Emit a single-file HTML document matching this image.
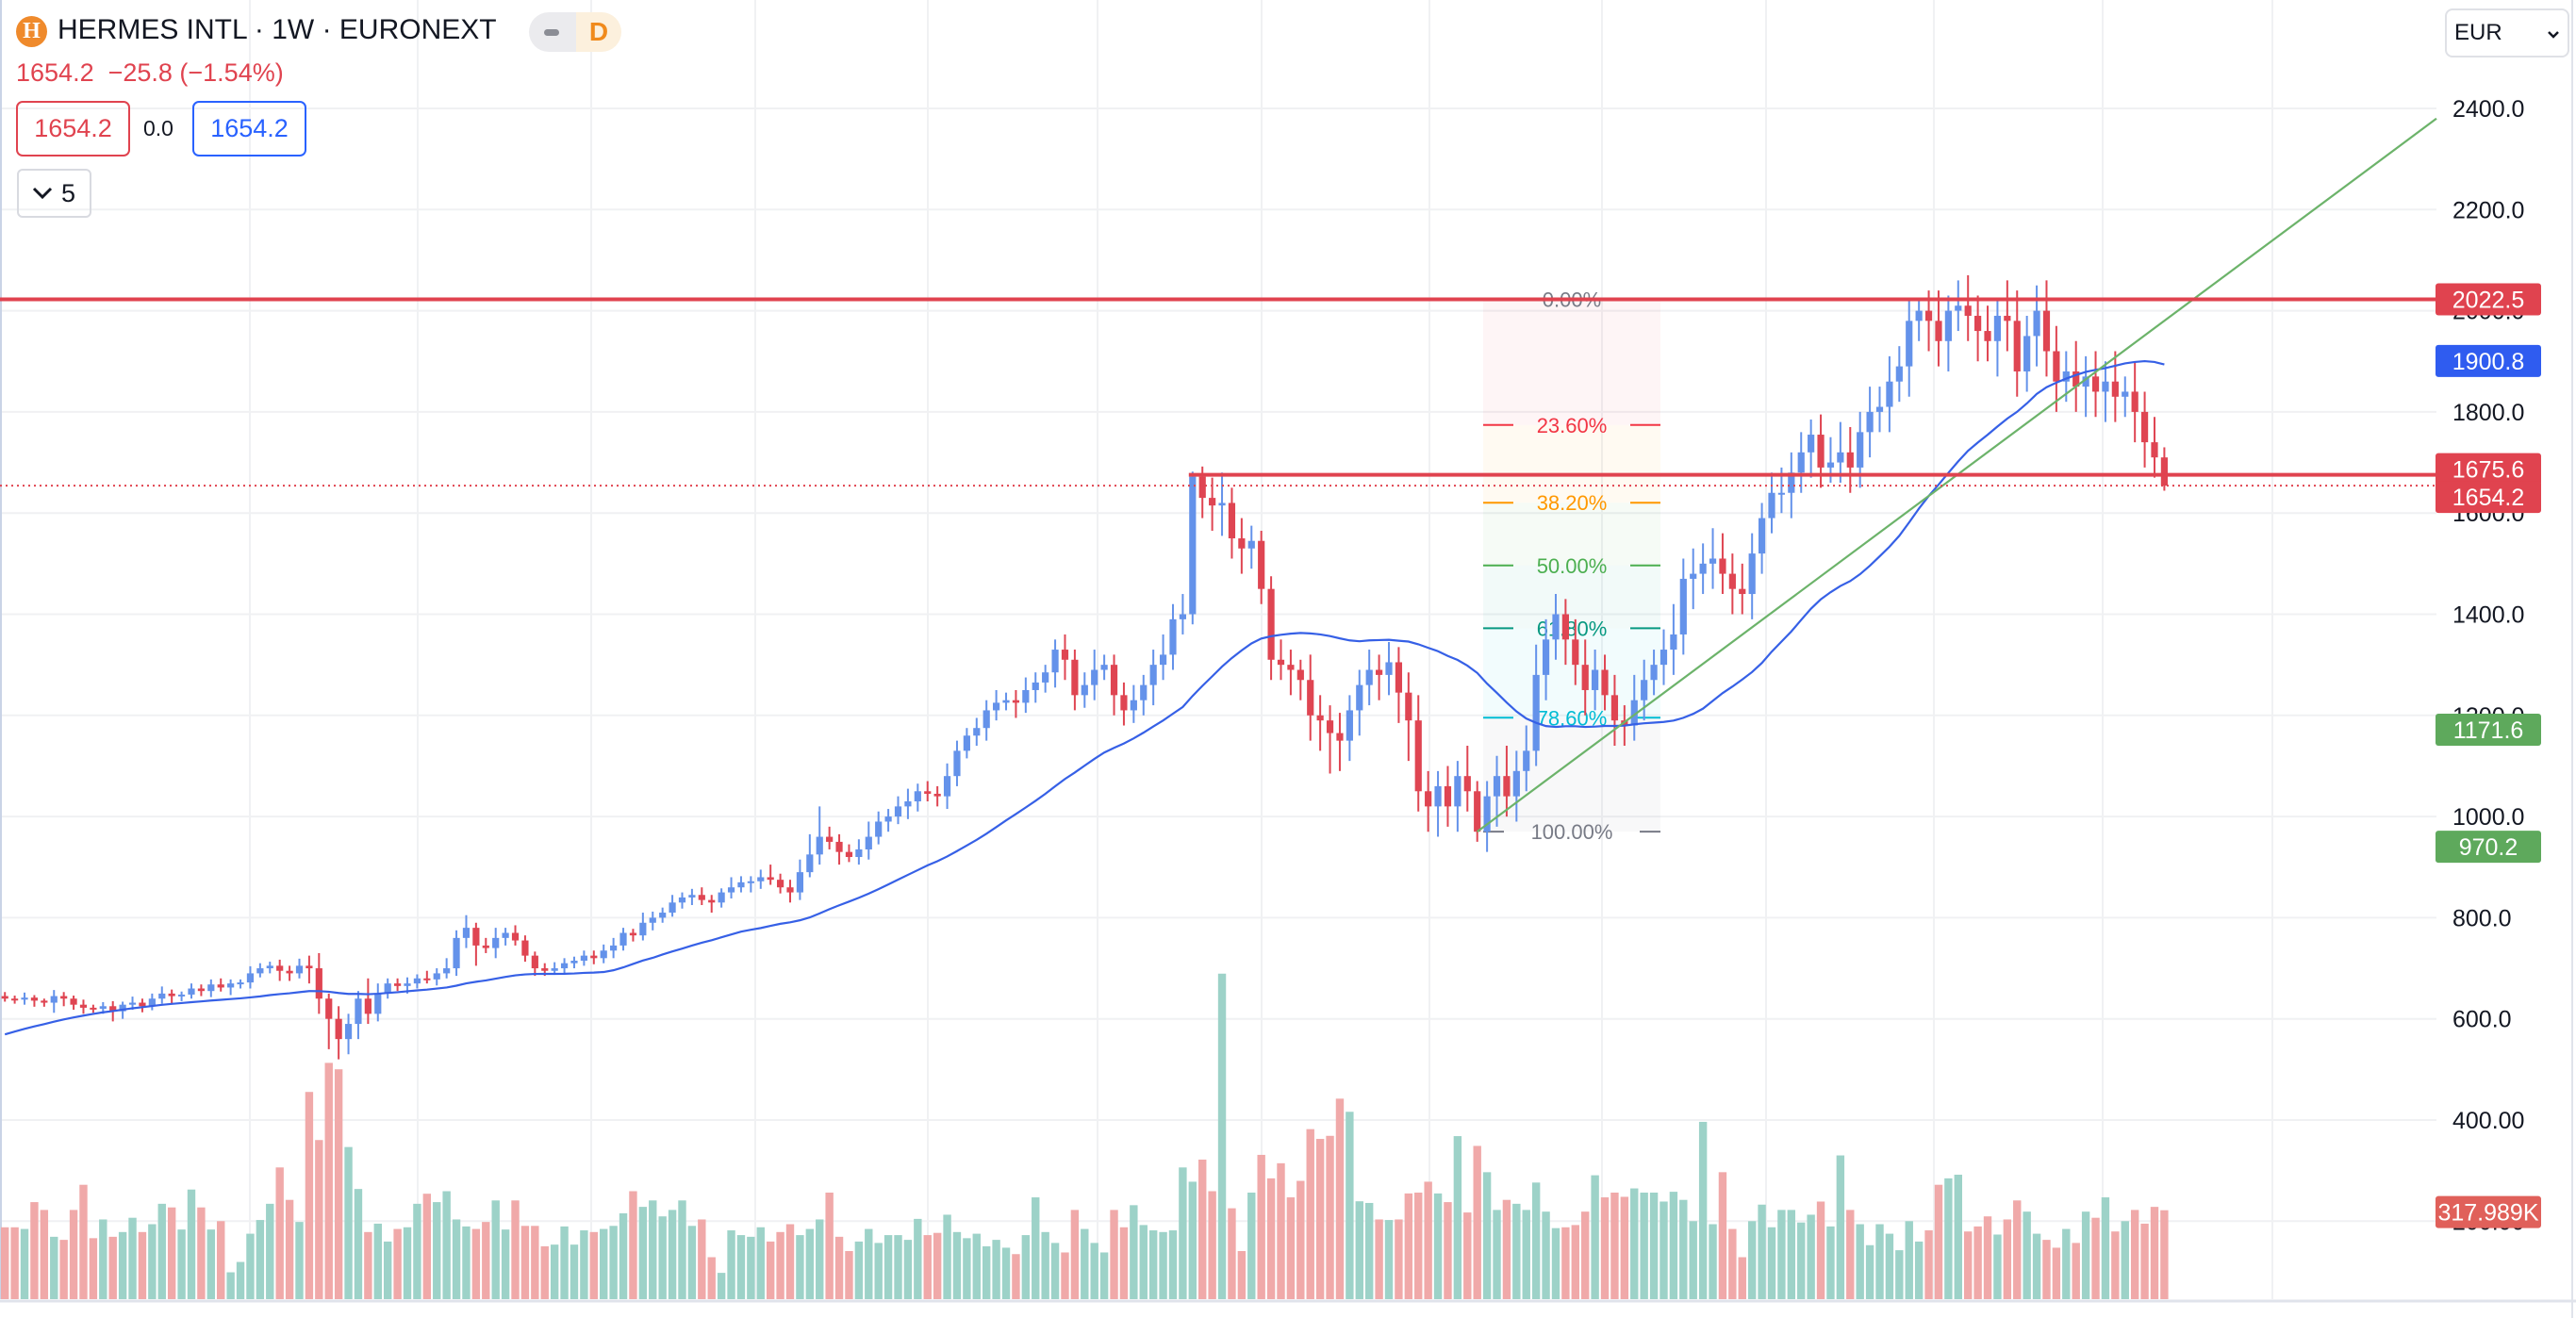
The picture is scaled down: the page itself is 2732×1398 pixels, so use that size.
<!DOCTYPE html>
<html><head><meta charset="utf-8"><style>
html,body{margin:0;padding:0;background:#fff;}
body{width:2732px;height:1398px;overflow:hidden;position:relative;font-family:"Liberation Sans",sans-serif;}
.abs{position:absolute;}
</style></head><body>
<svg id="chart" class="abs" style="left:0;top:0" width="2732" height="1398" viewBox="0 0 2732 1398" xmlns="http://www.w3.org/2000/svg">
<g id="grid"></g>
<g id="fib"></g>
<g id="vols"></g>
<g id="candles"></g>
<g id="overlay"></g>
<g id="axis"></g>
</svg>

<div class="abs" style="left:17px;top:17px;width:33px;height:33px;border-radius:50%;background:#ef8a2c;color:#fff;font:bold 24px 'Liberation Serif',serif;text-align:center;line-height:33px;">H</div>
<div class="abs" style="left:61px;top:15px;font-size:30px;color:#131722;white-space:nowrap;">HERMES INTL · 1W · EURONEXT</div>
<div class="abs" style="left:561px;top:13px;width:98px;height:42px;border-radius:21px;overflow:hidden;">
  <div class="abs" style="left:0;top:0;width:50px;height:42px;background:#ebebee;"><div class="abs" style="left:16px;top:18px;width:16px;height:7px;border-radius:4px;background:#8b8d95;"></div></div>
  <div class="abs" style="left:50px;top:0;width:48px;height:42px;background:#fcf0dd;color:#f08a1c;font-size:28px;line-height:42px;text-align:center;font-weight:bold;">D</div>
</div>
<div class="abs" style="left:17px;top:62px;font-size:27px;color:#e0434f;white-space:nowrap;">1654.2&nbsp; −25.8 (−1.54%)</div>
<div class="abs" style="left:17px;top:107px;width:117px;height:55px;border:2px solid #e0434f;border-radius:7px;color:#e0434f;font-size:27px;line-height:55px;text-align:center;">1654.2</div>
<div class="abs" style="left:152px;top:107px;height:59px;line-height:59px;font-size:23px;color:#131722;">0.0</div>
<div class="abs" style="left:204px;top:107px;width:117px;height:55px;border:2px solid #2962ff;border-radius:7px;color:#2962ff;font-size:27px;line-height:55px;text-align:center;">1654.2</div>
<div class="abs" style="left:18px;top:179px;width:75px;height:48px;border:2px solid #d8dae0;border-radius:6px;font-size:27px;line-height:48px;color:#131722;">
  <svg class="abs" style="left:14px;top:17px" width="22" height="14" viewBox="0 0 22 14"><path d="M2 2 L11 11 L20 2" stroke="#131722" stroke-width="3" fill="none"/></svg>
  <span class="abs" style="left:45px;top:0;">5</span>
</div>
<div class="abs" style="left:2593px;top:9px;width:128px;height:48px;border:2px solid #dfe1e6;border-radius:8px;font-size:24px;line-height:48px;color:#131722;">
  <span class="abs" style="left:8px;top:0;">EUR</span>
  <svg class="abs" style="left:106px;top:21px" width="14" height="9" viewBox="0 0 14 9"><path d="M2 2 L7 7 L12 2" stroke="#131722" stroke-width="2.5" fill="none"/></svg>
</div>

<script>
const priorCloses=[470,480,490,495,500,505,510,515,520,530,540,545,550,560,570,580,590,600,605,610,615,620,625,630,635,640,630,635,640];
const closes=[
640,638,642,636,632,645,640,628,622,620,
625,615,628,632,625,640,650,645,648,660,
655,668,662,670,672,690,700,705,695,690,
705,700,640,600,560,590,640,610,650,670,
665,670,680,678,690,700,760,780,745,740,
760,770,755,725,700,695,700,710,715,725,
720,735,745,770,765,790,800,810,830,840,
845,835,830,850,860,870,872,880,875,860,
850,890,925,960,950,930,920,935,960,990,
1000,1020,1030,1050,1045,1040,1080,1130,1160,1175,
1210,1225,1230,1225,1250,1265,1285,1330,1310,1240,
1260,1290,1300,1240,1210,1230,1260,1300,1320,1390,
1400,1672,1630,1615,1620,1550,1530,1545,1450,1310,
1300,1290,1270,1200,1190,1165,1150,1210,1260,1290,
1280,1305,1245,1190,1050,1020,1060,1020,1080,1050,
970,1040,1080,1040,1090,1130,1280,1350,1400,1350,
1300,1250,1290,1240,1190,1180,1230,1270,1300,1330,
1360,1470,1480,1500,1510,1480,1450,1440,1520,1590,
1640,1640,1680,1720,1755,1690,1700,1720,1690,1760,
1800,1810,1860,1890,1980,2000,1980,1940,2000,2010,
1990,1960,1940,1990,1980,1880,1950,2000,1920,1860,
1880,1850,1870,1840,1860,1830,1840,1800,1740,1710,
1654.2];
const wickUp=[
8,6,10,5,4,12,8,6,10,6,8,10,6,12,8,10,14,8,6,10,
8,10,12,8,6,14,10,8,12,10,14,20,30,10,25,20,15,40,20,10,
10,12,8,15,10,20,15,25,10,15,20,10,15,10,8,10,12,10,8,10,
10,12,15,10,8,20,12,10,15,10,12,15,10,8,20,12,10,15,25,12,
15,25,40,60,20,15,15,20,30,20,15,20,25,15,20,15,25,20,15,20,
20,25,15,20,25,20,15,20,30,20,25,40,20,20,25,30,20,30,40,30,
40,10,20,40,60,30,40,30,20,25,40,30,20,50,40,30,40,30,30,40,
30,40,30,40,50,40,30,40,30,60,20,30,40,60,40,50,60,40,40,30,
40,50,40,30,40,30,50,40,30,40,60,40,50,40,60,50,40,50,40,30,
40,50,40,40,30,40,50,60,50,40,50,40,50,40,40,20,40,60,30,50,
60,40,50,30,70,60,40,50,60,50,40,60,40,50,40,60,30,60,40,50,20];
const wickDn=[
6,8,10,12,8,20,15,10,12,8,10,20,15,10,12,8,10,15,10,8,
10,12,8,15,10,12,8,10,20,15,10,30,30,60,40,30,30,20,15,10,
10,15,10,8,12,10,15,20,40,10,20,15,10,12,15,10,8,12,10,10,
12,10,15,10,12,10,15,10,8,12,15,10,20,10,12,10,20,15,10,12,
20,15,10,20,15,25,10,15,20,15,20,15,25,20,15,20,25,20,15,20,
25,20,15,30,20,25,20,30,40,30,25,30,20,40,30,25,30,40,30,30,
30,20,40,50,60,40,50,40,30,40,30,50,40,50,60,80,60,40,50,40,
50,40,60,80,40,50,60,40,50,40,20,40,60,40,50,40,30,50,40,50,
40,50,40,30,50,40,30,40,30,40,50,40,60,40,50,40,50,40,50,40,
30,40,50,40,50,40,30,40,50,40,50,40,50,40,60,40,60,50,60,40,
50,60,40,70,60,50,40,60,50,60,40,50,60,50,60,50,40,60,50,40,10];
const volumes=[
257,257,251,347,319,223,212,319,409,218,
285,223,240,291,240,268,341,328,249,392,
328,249,279,96,133,234,283,341,471,355,
276,741,569,845,822,544,394,240,270,206,
251,257,341,377,347,386,285,260,251,276,
353,249,353,262,262,189,195,260,195,246,
240,251,262,307,386,330,353,296,319,353,
262,285,150,94,246,229,223,257,206,240,
268,229,251,285,381,223,172,206,251,201,
229,229,212,287,229,237,302,240,218,234,
189,212,184,161,229,364,240,201,167,319,
251,201,167,319,257,336,265,246,240,246,
471,420,499,386,1164,325,172,381,516,432,
486,364,423,608,573,584,717,670,350,344,
285,283,285,378,381,420,378,347,583,310,
548,454,319,355,341,319,417,313,254,257,
265,313,443,364,381,366,396,381,381,349,
384,355,279,634,268,454,251,150,279,338,
257,319,319,274,302,349,260,514,319,268,
193,268,234,175,279,206,246,409,432,445,
242,260,296,231,285,353,313,234,212,184,
251,201,313,291,364,242,279,319,270,330,318];
const priceTicks=[2400,2200,2000,1800,1600,1400,1200,1000,800,600,400,200];
const tickLabels=["2400.0","2200.0","2000.0","1800.0","1600.0","1400.0","1200.0","1000.0","800.0","600.0","400.00","200.00"];
const fibLevels=[0,0.236,0.382,0.5,0.618,0.786,1];
const fibLabels=["0.00%","23.60%","38.20%","50.00%","61.80%","78.60%","100.00%"];
const fibHigh=2022.5, fibLow=970.2;
const resistance=2022.5, support=1675.6, lastPrice=1654.2, maLast=1900.8, trendStart=970.2, trendLabel=1171.6, lastVol=317.989;
const gridXs=[265,443,627,801,984,1164,1338,1516,1699,1873,2051,2230,2410];
const MA_PERIOD=30;

const NS="http://www.w3.org/2000/svg";
const PLOT_R=2584, VOL_BASE=1378;
function y(p){return 115+(2400-p)*0.5365;}
function x(i){return 5.2+i*10.41;}
function vy(v){return VOL_BASE-v*0.2966;}
function mk(tag,attrs,parent){const e=document.createElementNS(NS,tag);for(const k in attrs)e.setAttribute(k,attrs[k]);parent.appendChild(e);return e;}

const grid=document.getElementById('grid');
priceTicks.forEach((p,k)=>{const l=mk('line',{x1:0,x2:PLOT_R,y1:y(p),y2:y(p),stroke:'#f0f1f3','stroke-width':2},grid);

});
gridXs.forEach(gx=>{const l=mk('line',{x1:gx,x2:gx,y1:0,y2:VOL_BASE,stroke:'#f0f1f3','stroke-width':2},grid);

});
{const l=mk('line',{x1:1,x2:1,y1:0,y2:VOL_BASE,stroke:'#c9d3e6','stroke-width':2},grid);

}
{const l=mk('line',{x1:0,x2:2732,y1:VOL_BASE+2,y2:VOL_BASE+2,stroke:'#e0e3eb','stroke-width':3},grid);

}
{const l=mk('line',{x1:2728,x2:2728,y1:0,y2:1398,stroke:'#e0e3eb','stroke-width':2},grid);

}

const fib=document.getElementById('fib');
const FX1=1573,FX2=1761,FXC=1667;
const fibColors=['#787b86','#f23645','#ff9800','#4caf50','#089981','#00bcd4','#787b86'];
const bandColors=['rgba(242,54,69,0.05)','rgba(255,152,0,0.05)','rgba(76,175,80,0.05)','rgba(8,153,129,0.05)','rgba(0,188,212,0.05)','rgba(120,123,134,0.05)'];
const fp=f=>fibHigh-f*(fibHigh-fibLow);
for(let k=0;k<fibLevels.length-1;k++){
 const r=mk('rect',{x:FX1,y:y(fp(fibLevels[k])),width:FX2-FX1,height:y(fp(fibLevels[k+1]))-y(fp(fibLevels[k])),fill:bandColors[k]},fib);
 
 
}
fibLevels.forEach((f,k)=>{
 const yy=y(fp(f));const half=k===6?72:62;
 const a=mk('line',{x1:FX1,x2:FXC-half,y1:yy,y2:yy,stroke:fibColors[k],'stroke-width':2},fib);
 
 
 const b=mk('line',{x1:FXC+half,x2:FX2,y1:yy,y2:yy,stroke:fibColors[k],'stroke-width':2},fib);
 
 
 const t=mk('text',{x:FXC,y:yy+8,'text-anchor':'middle','font-size':22,fill:fibColors[k],'font-family':'Liberation Sans, sans-serif'},fib);
 t.textContent=fibLabels[k];
 
 
});

const vols=document.getElementById('vols'), cg=document.getElementById('candles');
closes.forEach((c,i)=>{
 const o=i===0?645:closes[i-1];
 const up=c>=o;
 const vb=mk('rect',{x:x(i)-4.2,y:vy(volumes[i]),width:8.4,height:VOL_BASE-vy(volumes[i]),fill:up?'#9dd2c8':'#f0a9a9'},vols);
 
 
 const col=up?'#6492ea':'#df4552';
 const hi=Math.max(o,c)+wickUp[i], lo=Math.min(o,c)-wickDn[i];
 const w=mk('line',{x1:x(i),x2:x(i),y1:y(hi),y2:y(lo),stroke:col,'stroke-width':2},cg);
 
 
 const top=y(Math.max(o,c)), bot=y(Math.min(o,c));
 const b=mk('rect',{x:x(i)-3.6,y:top,width:7.2,height:Math.max(2,bot-top),fill:col},cg);
 
 
});

const ov=document.getElementById('overlay');
const all=priorCloses.concat(closes), P=priorCloses.length;
let pts=[];
for(let i=0;i<closes.length;i++){let s=0;for(let k=0;k<MA_PERIOD;k++)s+=all[P+i-k];pts.push(x(i)+','+y(s/MA_PERIOD));}
{const l=mk('polyline',{points:pts.join(' '),fill:'none',stroke:'#3660e6','stroke-width':2.2},ov);

}
{const tx1=x(150),ty1=y(trendStart),tx2=2584,ty2=y(2380);
const l=mk('line',{x1:tx1,y1:ty1,x2:tx2,y2:ty2,stroke:'#6cb36a','stroke-width':2.2},ov);

}
{const l=mk('line',{x1:0,x2:2584,y1:y(resistance),y2:y(resistance),stroke:'#e0434f','stroke-width':4},ov);

}
{const l=mk('line',{x1:x(121)-4,x2:2584,y1:y(support),y2:y(support),stroke:'#e0434f','stroke-width':4},ov);

}
{const l=mk('line',{x1:0,x2:2584,y1:y(lastPrice),y2:y(lastPrice),stroke:'#e0434f','stroke-width':2,'stroke-dasharray':'2 4'},ov);

}

const ax=document.getElementById('axis');
priceTicks.forEach((p,k)=>{const t=mk('text',{x:2601,y:y(p)+9,'font-size':25,fill:'#131722','font-family':'Liberation Sans, sans-serif'},ax);
t.textContent=tickLabels[k];

});
function tag(val,txt,col,yy){
 const cy=yy===undefined?y(val):yy;
 const r=mk('rect',{x:2583,y:cy-17,width:112,height:34,rx:3,fill:col},ax);
 
 
 const t=mk('text',{x:2639,y:cy+9,'text-anchor':'middle','font-size':25,fill:'#fff','font-family':'Liberation Sans, sans-serif'},ax);
 t.textContent=txt;
 
 
}
tag(resistance,resistance.toFixed(1),'#e0434f');
tag(maLast,maLast.toFixed(1),'#2f5cf0');
tag(support,support.toFixed(1),'#e0434f',y(support)-6);
tag(lastPrice,lastPrice.toFixed(1),'#e0434f',y(lastPrice)+12);
tag(trendLabel,trendLabel.toFixed(1),'#5ea95c');
tag(trendStart,trendStart.toFixed(1),'#5ea95c',y(trendStart)+16);
tag(0,lastVol.toFixed(3)+'K','#e0605a',vy(lastVol)+2);
</script>
</body></html>
